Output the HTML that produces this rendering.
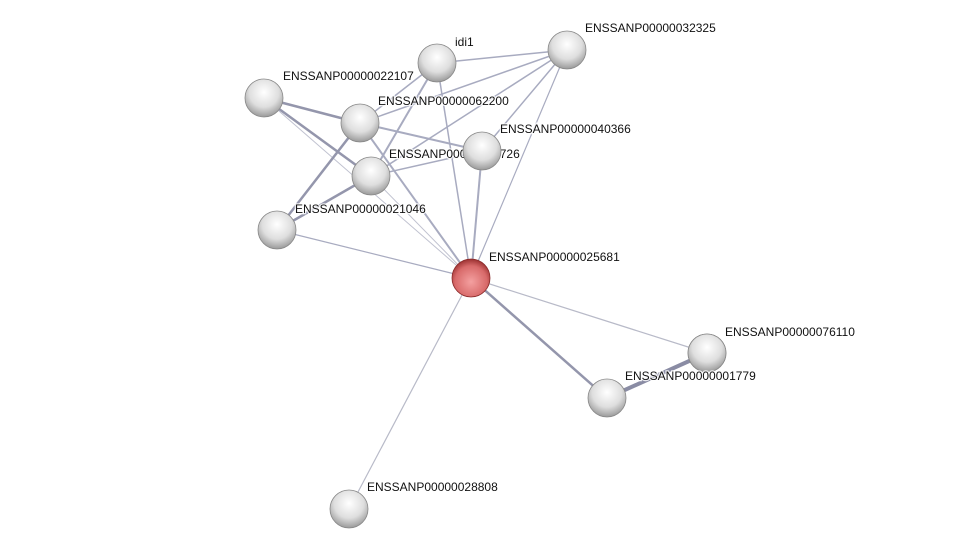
<!DOCTYPE html>
<html><head><style>body{margin:0;background:#fff}svg{display:block}text{font-family:"Liberation Sans",sans-serif;font-size:12px;fill:#111;paint-order:stroke;stroke:#fff;stroke-width:2.5px;stroke-opacity:.8}</style></head>
<body>
<svg width="975" height="554" viewBox="0 0 975 554">
<defs>
<radialGradient id="g" cx="0.5" cy="0.35" r="0.65">
<stop offset="0" stop-color="#ffffff"/><stop offset="0.6" stop-color="#dedede"/><stop offset="1" stop-color="#9a9a9a"/></radialGradient>
<radialGradient id="r" cx="0.5" cy="0.6" r="0.6">
<stop offset="0" stop-color="#f4a0a0"/><stop offset="0.7" stop-color="#d86a6a"/><stop offset="1" stop-color="#9a3030"/></radialGradient>
</defs>
<g stroke="#a8abc0" fill="none">
<line x1="437" y1="63" x2="567" y2="50" stroke-width="1.5"/>
<line x1="437" y1="63" x2="360" y2="123" stroke-width="1.5"/>
<line x1="437" y1="63" x2="371" y2="176" stroke-width="2"/>
<line x1="437" y1="63" x2="471" y2="278" stroke-width="1.5"/>
<line x1="567" y1="50" x2="360" y2="123" stroke-width="1.5"/>
<line x1="567" y1="50" x2="371" y2="176" stroke-width="1.5"/>
<line x1="567" y1="50" x2="482" y2="151" stroke-width="1.5"/>
<line x1="567" y1="50" x2="471" y2="278" stroke-width="1.2"/>
<line x1="264" y1="98" x2="360" y2="123" stroke-width="2.5" stroke="#9496ac"/>
<line x1="264" y1="98" x2="371" y2="176" stroke-width="2.5" stroke="#9496ac"/>
<line x1="264" y1="98" x2="471" y2="278" stroke-width="1" stroke="#c0c2d0"/>
<line x1="360" y1="123" x2="482" y2="151" stroke-width="2"/>
<line x1="360" y1="123" x2="277" y2="230" stroke-width="2.5" stroke="#9496ac"/>
<line x1="360" y1="123" x2="471" y2="278" stroke-width="2"/>
<line x1="371" y1="176" x2="482" y2="151" stroke-width="1.5"/>
<line x1="371" y1="176" x2="277" y2="230" stroke-width="2.5" stroke="#9496ac"/>
<line x1="371" y1="176" x2="471" y2="278" stroke-width="1" stroke="#c0c2d0"/>
<line x1="277" y1="230" x2="471" y2="278" stroke-width="1.2"/>
<line x1="482" y1="151" x2="471" y2="278" stroke-width="2"/>
<line x1="471" y1="278" x2="349" y2="509" stroke-width="1.2" stroke="#b8bac8"/>
<line x1="471" y1="278" x2="607" y2="398" stroke-width="2.5" stroke="#9496ac"/>
<line x1="471" y1="278" x2="707" y2="353" stroke-width="1.2" stroke="#b8bac8"/>
<line x1="607" y1="398" x2="707" y2="353" stroke-width="4" stroke="#8a8ca4"/>
</g>
<g stroke="#888" stroke-width="0.8">
<circle cx="264" cy="98" r="19" fill="url(#g)"/>
<circle cx="437" cy="63" r="19" fill="url(#g)"/>
<circle cx="567" cy="50" r="19" fill="url(#g)"/>
<circle cx="360" cy="123" r="19" fill="url(#g)"/>
<circle cx="371" cy="176" r="19" fill="url(#g)"/>
<circle cx="277" cy="230" r="19" fill="url(#g)"/>
<circle cx="349" cy="509" r="19" fill="url(#g)"/>
<circle cx="607" cy="398" r="19" fill="url(#g)"/>
<circle cx="707" cy="353" r="19" fill="url(#g)"/>
<circle cx="471" cy="278" r="19" fill="url(#r)" stroke="#8a2a2a"/>
</g>
<text x="455" y="46">idi1</text>
<text x="585" y="32">ENSSANP00000032325</text>
<text x="283" y="80">ENSSANP00000022107</text>
<text x="378" y="105">ENSSANP00000062200</text>
<text x="389" y="158">ENSSANP00000055726</text>
<text x="295" y="213">ENSSANP00000021046</text>
<text x="489" y="261">ENSSANP00000025681</text>
<text x="725" y="336">ENSSANP00000076110</text>
<text x="367" y="491">ENSSANP00000028808</text>
<circle cx="482" cy="151" r="19" fill="url(#g)" stroke="#888" stroke-width="0.8"/>
<text x="500" y="133">ENSSANP00000040366</text>
<circle cx="707" cy="353" r="19" fill="url(#g)" stroke="#888" stroke-width="0.8"/>
<text x="625" y="380">ENSSANP00000001779</text>
</svg>
</body></html>
